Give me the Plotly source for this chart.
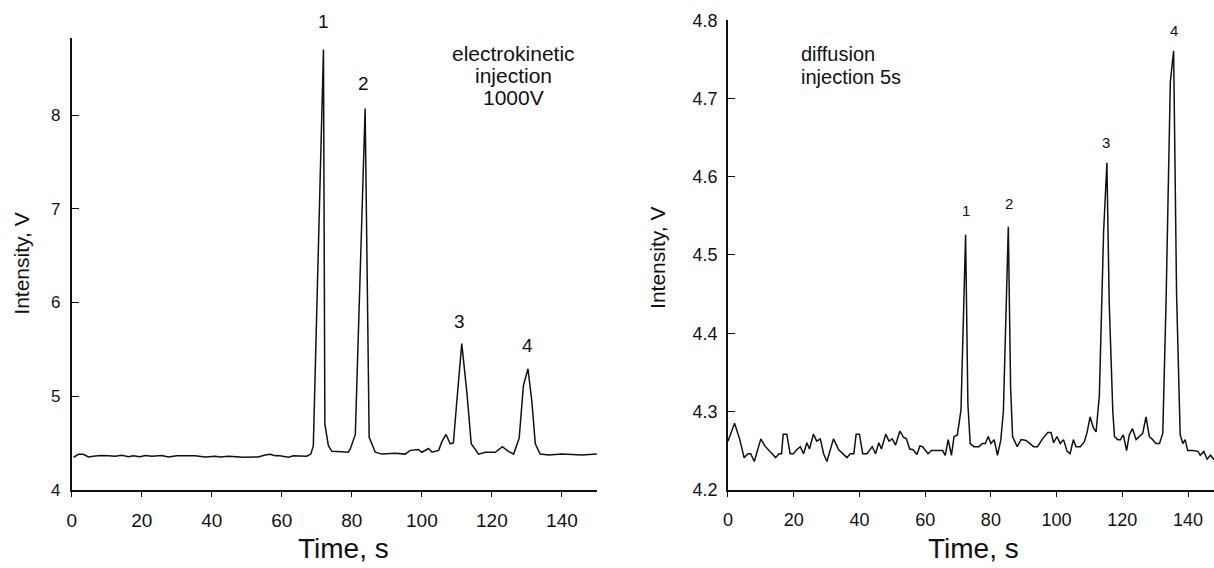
import plotly.graph_objects as go

# ---------------- data ----------------
# Left panel: electrokinetic injection 1000V
t_left = [0.5, 1.9, 3.3, 4.8, 6.7, 8.5, 10.5, 12.4, 14.3, 16.2, 17.6, 19.5, 21.0, 22.9, 25.7,
          27.6, 30.0, 32.5, 35.2, 38.1, 41.0, 42.4, 44.8, 47.0, 49.0, 53.3, 55.2, 56.7, 58.1,
          59.0, 60.5, 61.9, 63.3, 65.2, 67.1, 68.3, 69.0, 71.9, 72.3, 73.3, 74.3, 77.0, 79.0,
          79.5, 81.0, 83.8, 84.95, 86.7, 88.6, 92.4, 95.2, 96.7, 99.0, 100.0, 101.9, 102.9,
          104.8, 105.7, 106.9, 108.1, 109.0, 110.0, 111.4, 112.9, 114.1, 116.2, 118.1, 121.0,
          123.0, 124.7, 126.2, 127.8, 129.0, 130.3, 131.4, 132.4, 133.8, 136.2, 140.0, 142.9,
          145.7, 150.0]
v_left = [4.346, 4.378, 4.378, 4.350, 4.360, 4.365, 4.362, 4.358, 4.368, 4.352, 4.362, 4.352,
          4.366, 4.357, 4.366, 4.350, 4.362, 4.365, 4.362, 4.350, 4.357, 4.350, 4.357, 4.352,
          4.346, 4.350, 4.371, 4.378, 4.362, 4.366, 4.352, 4.346, 4.362, 4.360, 4.357, 4.380,
          4.470, 8.700, 4.700, 4.470, 4.410, 4.405, 4.400, 4.430, 4.590, 8.070, 4.560, 4.400,
          4.380, 4.390, 4.380, 4.420, 4.430, 4.400, 4.440, 4.400, 4.420, 4.510, 4.590, 4.490,
          4.500, 4.950, 5.560, 5.020, 4.490, 4.380, 4.400, 4.400, 4.460, 4.410, 4.380, 4.550,
          5.110, 5.290, 4.950, 4.490, 4.380, 4.370, 4.380, 4.375, 4.370, 4.380]

# Right panel: diffusion injection 5s
t_right = [0.0, 2.0, 3.6, 4.9, 6.1, 6.9, 8.0, 10.0, 11.2, 13.3, 14.5, 15.5, 16.3, 16.8, 17.9,
           18.9, 19.9, 20.9, 22.0, 23.0, 24.0, 24.8, 26.0, 27.0, 28.1, 29.1, 30.1, 32.1, 33.7,
           36.2, 37.2, 38.3, 39.0, 40.0, 41.0, 42.3, 43.9, 44.9, 45.9, 46.7, 48.0, 49.0, 50.0,
           51.0, 52.3, 53.4, 54.3, 55.3, 56.3, 57.5, 58.4, 59.2, 60.9, 61.9, 65.3, 66.1, 67.0,
           68.0, 68.8, 69.8, 70.9, 72.3, 73.0, 73.7, 74.8, 76.4, 77.4, 78.3, 79.2, 80.0, 81.0,
           82.0, 83.0, 83.8, 85.3, 86.0, 86.6, 88.0, 89.2, 90.7, 91.9, 93.0, 94.2, 95.7, 97.3,
           98.3, 99.1, 100.1, 101.1, 102.1, 103.2, 104.1, 105.1, 105.9, 107.2, 108.4, 109.2,
           110.2, 111.2, 112.0, 113.0, 114.3, 115.3, 116.0, 117.1, 117.6, 118.6, 119.4, 120.3,
           121.3, 122.1, 123.1, 124.2, 125.2, 126.2, 127.2, 128.2, 129.2, 130.2, 131.3, 132.3,
           133.3, 134.6, 135.6, 136.5, 137.6, 138.4, 139.1, 139.9, 141.4, 143.0, 143.7, 144.8,
           145.8, 146.8, 148.0]
v_right = [4.262, 4.285, 4.264, 4.241, 4.246, 4.246, 4.236, 4.265, 4.256, 4.246, 4.241, 4.246,
           4.246, 4.271, 4.271, 4.246, 4.246, 4.251, 4.255, 4.246, 4.260, 4.252, 4.271, 4.262,
           4.265, 4.246, 4.236, 4.265, 4.251, 4.241, 4.246, 4.246, 4.271, 4.271, 4.246, 4.246,
           4.255, 4.246, 4.260, 4.252, 4.271, 4.262, 4.265, 4.257, 4.275, 4.267, 4.265, 4.252,
           4.251, 4.245, 4.256, 4.255, 4.246, 4.250, 4.250, 4.244, 4.264, 4.244, 4.268, 4.270,
           4.302, 4.526, 4.310, 4.259, 4.255, 4.255, 4.259, 4.259, 4.268, 4.259, 4.264, 4.244,
           4.263, 4.300, 4.536, 4.330, 4.268, 4.255, 4.264, 4.263, 4.259, 4.255, 4.255, 4.265,
           4.273, 4.273, 4.260, 4.268, 4.259, 4.264, 4.249, 4.246, 4.264, 4.255, 4.255, 4.261,
           4.272, 4.293, 4.279, 4.274, 4.320, 4.530, 4.618, 4.440, 4.300, 4.268, 4.264, 4.264,
           4.270, 4.250, 4.270, 4.278, 4.264, 4.268, 4.272, 4.293, 4.268, 4.264, 4.259, 4.259,
           4.272, 4.440, 4.721, 4.761, 4.450, 4.270, 4.259, 4.264, 4.250, 4.250, 4.249, 4.244,
           4.249, 4.239, 4.244, 4.238]

left_ticks_x = [0, 20, 40, 60, 80, 100, 120, 140]
left_ticks_y = [4, 5, 6, 7, 8]
right_ticks_x = [0, 20, 40, 60, 80, 100, 120, 140]
right_ticks_y = [4.2, 4.3, 4.4, 4.5, 4.6, 4.7, 4.8]

left_peak_labels = ["1", "2", "3", "4"]
right_peak_labels = ["1", "2", "3", "4"]
left_note = ["electrokinetic", "injection", "1000V"]
right_note = ["diffusion", "injection 5s"]

# ---------------- layout helpers ----------------
W, H = 1214, 568
FONT = "Liberation Sans, Arial, sans-serif"
INK = "#111111"


def px(x):
    """target pixel column -> paper fraction (small calibration for the capture)."""
    xi = (x - 4.3) / 0.9955
    return min(max(xi / W, 0.0), 1.0)


def py(y):
    """target pixel row -> paper fraction (calibration for the capture)."""
    yi = (y - 9.7) / 0.966
    return min(max((H - yi) / H, 0.0), 1.0)


fig = go.Figure()
line_style = dict(color=INK, width=1.5)
fig.add_trace(go.Scatter(x=t_left, y=v_left, mode="lines", line=line_style,
                         xaxis="x", yaxis="y", showlegend=False, hoverinfo="skip"))
fig.add_trace(go.Scatter(x=t_right, y=v_right, mode="lines", line=line_style,
                         xaxis="x2", yaxis="y2", showlegend=False, hoverinfo="skip"))

axis_common = dict(showgrid=False, zeroline=False, showline=True, linecolor=INK,
                   linewidth=1.6, ticks="outside", tickcolor=INK, tickwidth=1.3,
                   color=INK)

# right x-axis runs to the page edge; keep 3.286 px per second
x2_left_px = (727 - 4.3) / 0.9955
x2_end = (W - x2_left_px) / 3.30

fig.update_layout(
    width=W, height=H,
    margin=dict(l=0, r=0, t=0, b=0),
    paper_bgcolor="white", plot_bgcolor="white",
    font=dict(family=FONT, color=INK),
    xaxis=dict(axis_common, domain=[px(71), px(596)], range=[0, 150], anchor="y",
               tickvals=left_ticks_x, ticklen=6, tickfont=dict(size=19),
               ticklabelstandoff=7),
    yaxis=dict(axis_common, domain=[py(490), py(38)], range=[4, 8.82], anchor="x",
               tickvals=left_ticks_y, ticks="inside", ticklen=7, tickfont=dict(size=17),
               ticklabelstandoff=6),
    xaxis2=dict(axis_common, domain=[px(727), 1.0], range=[0, x2_end], anchor="y2",
                tickvals=right_ticks_x, ticklen=6, tickfont=dict(size=18),
                ticklabelstandoff=7),
    yaxis2=dict(axis_common, domain=[py(490), py(20)], range=[4.2, 4.8], anchor="x2",
                tickvals=right_ticks_y, ticks="inside", ticklen=7, tickfont=dict(size=18),
                tickformat=".1f", ticklabelstandoff=5),
)

ann = []


def add_text(text, x, y, size, xanchor="center", angle=0):
    ann.append(dict(text=text, x=px(x), y=py(y), xref="paper", yref="paper",
                    showarrow=False, xanchor=xanchor, yanchor="middle",
                    font=dict(size=size, family=FONT, color=INK), textangle=angle))


# axis titles
add_text("Intensity, V", 21, 264, 21, angle=-90)
add_text("Intensity, V", 657, 258, 21, angle=-90)
add_text("Time, s", 343, 549, 28)
add_text("Time, s", 972, 549, 28)

# peak labels
for lab, (x, y) in zip(left_peak_labels, [(323, 21), (363, 83), (459, 322), (527, 346)]):
    add_text(lab, x, y, 19)
for lab, (x, y) in zip(right_peak_labels, [(965, 210), (1008, 203), (1105, 142), (1173, 30)]):
    add_text(lab, x, y, 15)

# notes
for line, y in zip(left_note, [53, 75, 97]):
    add_text(line, 513, y, 21)
for line, y in zip(right_note, [54, 77]):
    add_text(line, 798, y, 20, xanchor="left")

fig.update_layout(annotations=ann)
# remove the default page margin so the figure sits at the window origin
fig.write_html("out.html", config={"displayModeBar": False},
               post_script="document.body.style.margin='0';document.body.style.overflow='hidden';")
